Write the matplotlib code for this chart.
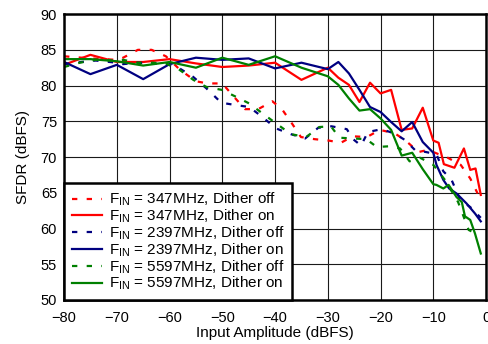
import matplotlib
matplotlib.use("Agg")
import matplotlib.pyplot as plt

plt.rcParams['font.family'] = ['Liberation Sans', 'DejaVu Sans']
plt.rcParams['mathtext.fontset'] = 'custom'
plt.rcParams['mathtext.rm'] = 'Liberation Sans'
plt.rcParams['mathtext.it'] = 'Liberation Sans'

# 347 MHz, dither off
x_347_off = [-80, -75, -70, -68.8, -66, -63.4, -60.7, -58, -55, -52.8, -50, -48, -45.7, -43.2, -40.5,
             -38.6, -36.8, -35.1, -32.5, -29.8, -27.5, -25.3, -22.6, -20.1, -17.3, -15.4, -12.8,
             -11, -9, -7.5, -4.8, -3, -1.6]
y_347_off = [84.1, 83.8, 83.6, 83.9, 85.0, 85.0, 84.1, 82.2, 80.6, 80.3, 80.3, 78.6, 76.7, 76.7, 77.8,
             76.6, 74.7, 72.8, 72.5, 72.3, 72.0, 72.9, 72.8, 73.8, 73.3, 72.4, 70.7,
             71.0, 70.4, 70.0, 68.9, 67.0, 64.9]

# 347 MHz, dither on
x_347_on = [-80, -75, -70, -65, -60, -55, -50, -45, -40, -35, -30, -28, -26, -24, -22, -20, -18,
            -16, -14, -12, -10, -9, -8, -6, -4.2, -3, -2, -1]
y_347_on = [82.9, 84.3, 83.3, 83.3, 83.7, 83.1, 82.6, 82.8, 83.2, 80.8, 82.5, 81.1, 80.1, 77.7,
            80.4, 78.9, 79.4, 73.8, 74.0, 76.9, 72.3, 72.0, 69.0, 68.5, 71.2, 68.2, 68.4, 64.7]

# 2397 MHz, dither off
x_2397_off = [-80, -76.7, -74, -70, -68.8, -66.1, -63, -60.5, -58.1, -55.5, -53, -50.2, -47.7, -44.9,
              -42.4, -39.8, -37, -34.3, -31.8, -29.3, -26.4, -25.2, -23.7, -22.4, -19.8, -17.4,
              -15.4, -13.5, -11.4, -9.4, -8.1, -6.6, -4.9, -3, -1]
y_2397_off = [83.0, 83.3, 83.5, 83.2, 83.0, 83.2, 83.1, 83.0, 82.4, 81.2, 79.6, 77.6, 77.3, 77.0,
              75.6, 74.0, 73.2, 72.6, 74.1, 74.3, 73.9, 72.5, 71.6, 73.5, 73.9, 73.3,
              72.4, 71.0, 70.7, 70.4, 68.0, 66.9, 64.0, 63.0, 61.5]

# 2397 MHz, dither on
x_2397_on = [-80, -75, -70, -65, -60, -55, -50, -45, -40, -35, -30, -28, -26, -24, -22, -20, -18,
             -16, -14, -12, -10, -9.4, -8.1, -7, -5.6, -3.7, -2.1, -1]
y_2397_on = [83.3, 81.6, 82.9, 80.9, 83.0, 83.9, 83.6, 83.8, 82.4, 83.2, 82.3, 83.3, 81.7, 79.4,
             77.0, 76.3, 74.9, 73.6, 74.9, 72.1, 70.6, 68.9, 66.8, 65.6, 64.9, 63.5, 62.1, 61.0]

# 5597 MHz, dither off
x_5597_off = [-80, -77, -74, -70, -68.8, -66.1, -63.4, -60.7, -58.1, -55.5, -53, -50.1, -47.6, -44.9,
              -42.2, -39.6, -37, -34.1, -31.6, -29.4, -27.8, -25.2, -22.7, -20.7, -18.5, -16.3,
              -14.5, -12.5, -10, -7.8, -5.3, -3.3, -2]
y_5597_off = [82.6, 83.2, 83.6, 83.5, 83.6, 83.2, 83.2, 83.1, 82.2, 80.8, 79.8, 79.4, 78.5, 77.5,
              76.0, 74.6, 73.2, 72.8, 74.2, 74.3, 72.7, 72.6, 72.5, 71.4, 71.5, 71.2,
              69.4, 69.9, 68.9, 66.8, 63.7, 59.8, 59.3]

# 5597 MHz, dither on
x_5597_on = [-80, -75, -70, -65, -60, -55, -50, -45, -40, -35, -30, -28, -26, -24, -22, -20, -18,
             -16, -14, -12, -10, -9.4, -8.1, -7.1, -5.6, -4.6, -4, -3, -2.1, -1]
y_5597_on = [83.7, 83.7, 83.4, 82.8, 83.3, 82.5, 83.9, 82.9, 84.1, 82.5, 81.3, 80.1, 78.2, 76.5,
             76.7, 75.4, 73.8, 70.2, 70.6, 68.3, 66.2, 66.1, 65.6, 66.1, 64.4, 63.7, 61.7, 61.2,
             59.3, 56.5]

xticks = [-80, -70, -60, -50, -40, -30, -20, -10, 0]
yticks = [50, 55, 60, 65, 70, 75, 80, 85, 90]

labels = [r'F$_{\mathrm{IN}}$ = 347MHz, Dither off',
          r'F$_{\mathrm{IN}}$ = 347MHz, Dither on',
          r'F$_{\mathrm{IN}}$ = 2397MHz, Dither off',
          r'F$_{\mathrm{IN}}$ = 2397MHz, Dither on',
          r'F$_{\mathrm{IN}}$ = 5597MHz, Dither off',
          r'F$_{\mathrm{IN}}$ = 5597MHz, Dither on']

RED = '#ff0000'
BLUE = '#000080'
GREEN = '#008000'
FS_TICK = 10.5
FS = 11

fig = plt.figure(figsize=(4.89, 3.44), dpi=100)
ax = fig.add_axes([0.131, 0.128, 0.863, 0.831])

dash = (0, (2.4, 4.2))
lw = 1.6
ax.plot(x_347_off, y_347_off, color=RED, lw=lw, linestyle=dash, label=labels[0])
ax.plot(x_347_on, y_347_on, color=RED, lw=lw, label=labels[1])
ax.plot(x_2397_off, y_2397_off, color=BLUE, lw=lw, linestyle=dash, label=labels[2])
ax.plot(x_2397_on, y_2397_on, color=BLUE, lw=lw, label=labels[3])
ax.plot(x_5597_off, y_5597_off, color=GREEN, lw=lw, linestyle=dash, label=labels[4])
ax.plot(x_5597_on, y_5597_on, color=GREEN, lw=lw, label=labels[5])

ax.set_xlim(-80, 0)
ax.set_ylim(50, 90)
ax.set_xticks(xticks)
ax.set_yticks(yticks)
ax.tick_params(axis='x', length=0, labelsize=FS_TICK, pad=8)
ax.tick_params(axis='y', length=0, labelsize=FS_TICK, pad=5)
ax.grid(True, color='0.1', lw=0.8)
ax.set_axisbelow(True)
for s in ax.spines.values():
    s.set_linewidth(1.8)
    s.set_color('black')

ax.set_xlabel('Input Amplitude (dBFS)', fontsize=FS, labelpad=1)
ax.set_ylabel('SFDR (dBFS)', fontsize=FS, labelpad=8)

leg = ax.legend(loc='lower left', borderaxespad=0, fontsize=FS, frameon=True,
                fancybox=False, handlelength=2.0, handletextpad=0.45, labelspacing=-0.04,
                borderpad=0.5)
leg.get_frame().set_edgecolor('black')
leg.get_frame().set_linewidth(1.8)
leg.get_frame().set_alpha(1)

fig.savefig('out.png', dpi=100)
